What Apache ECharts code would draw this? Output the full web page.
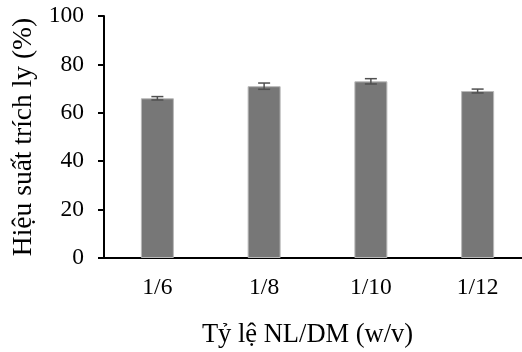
<!DOCTYPE html>
<html>
<head>
<meta charset="utf-8">
<script src="https://cdn.jsdelivr.net/npm/echarts@6/dist/echarts.min.js"></script>
<style>
  html, body { margin: 0; padding: 0; background: #fff; }
  #chart { width: 522px; height: 352px; }
</style>
</head>
<body>
<div id="chart"></div>
<script>
const categories = ['1/6', '1/8', '1/10', '1/12']
const yieldValues = [66, 71, 73, 69]
const yieldErrors = [0.7, 1.3, 1.1, 0.8]
const yTicks = { min: 0, max: 100, interval: 20 }

const FONT = '"Liberation Serif", "Times New Roman", serif'
const chart = echarts.init(document.getElementById('chart'))

const errData = yieldValues.map((v, i) => [i, v - yieldErrors[i], v + yieldErrors[i]])

chart.setOption({
  animation: false,
  backgroundColor: '#fff',
  grid: { left: 104, top: 16, bottom: 94, width: 427, outerBoundsMode: 'none', containLabel: false },
  xAxis: {
    type: 'category',
    data: categories,
    name: 'Tỷ lệ NL/DM (w/v)',
    nameLocation: 'middle',
    nameGap: 64,
    // the title sits a little left of the plot centre in the original
    nameTextStyle: { fontFamily: FONT, fontSize: 26.5, color: '#000', padding: [0, 20, 0, 0] },
    axisLine: { lineStyle: { color: '#000', width: 2 } },
    axisTick: { show: false },
    axisLabel: { fontFamily: FONT, fontSize: 23.5, color: '#000', margin: 18 }
  },
  yAxis: {
    type: 'value',
    min: yTicks.min,
    max: yTicks.max,
    interval: yTicks.interval,
    name: 'Hiệu suất trích ly (%)',
    nameLocation: 'middle',
    nameGap: 61,
    nameRotate: 90,
    nameTextStyle: { fontFamily: FONT, fontSize: 27.5, color: '#000' },
    axisLine: { show: true, lineStyle: { color: '#000', width: 2 } },
    axisTick: { show: true, inside: false, length: 6, lineStyle: { color: '#000', width: 2 } },
    axisLabel: { fontFamily: FONT, fontSize: 23.5, color: '#000', margin: 20 },
    splitLine: { show: false }
  },
  series: [
    {
      type: 'bar',
      data: yieldValues,
      barWidth: 33,
      itemStyle: { color: '#777777', borderColor: '#b8b8b8', borderWidth: 1 }
    },
    {
      type: 'custom',
      data: errData,
      z: 5,
      renderItem: (params, api) => {
        const lo = api.coord([api.value(0), api.value(1)])
        const hi = api.coord([api.value(0), api.value(2)])
        const half = 6
        const style = { stroke: '#505050', lineWidth: 1.5 }
        return {
          type: 'group',
          children: [
            { type: 'line', shape: { x1: hi[0], y1: hi[1], x2: lo[0], y2: lo[1] }, style },
            { type: 'line', shape: { x1: hi[0] - half, y1: hi[1], x2: hi[0] + half, y2: hi[1] }, style },
            { type: 'line', shape: { x1: lo[0] - half, y1: lo[1], x2: lo[0] + half, y2: lo[1] }, style }
          ]
        }
      }
    }
  ]
})
</script>
</body>
</html>
